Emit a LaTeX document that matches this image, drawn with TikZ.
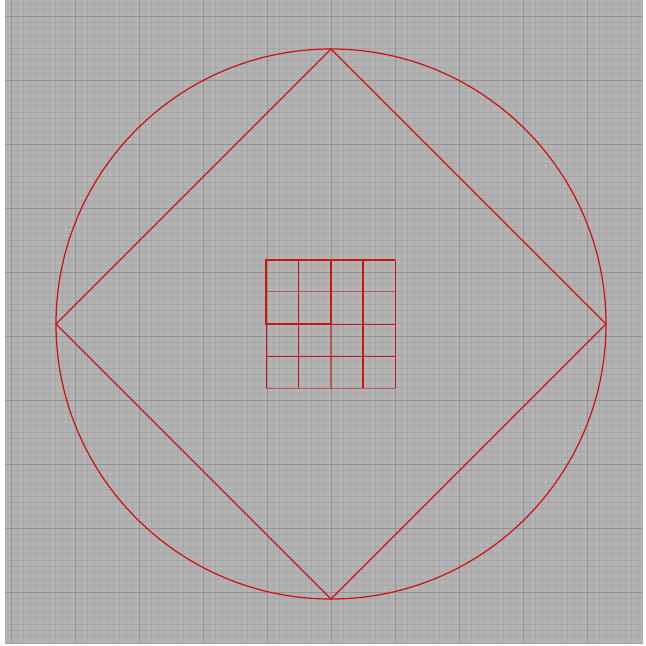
\documentclass[tikz,border=0pt]{standalone}
\usepackage{tikz}
\usetikzlibrary{calc}
\definecolor{CanvasGray}{HTML}{B3B3B3}
\definecolor{GridFine}{HTML}{A6A6A6}
\definecolor{GridMajor}{HTML}{929292}
\definecolor{SketchRed}{HTML}{CC1414}

\begin{document}
\begin{tikzpicture}[
    x=0.02cm, y=-0.02cm,
    fineline/.style={
      draw=GridFine,
      line width=0.45pt
    },
    majorline/.style={
      draw=GridMajor,
      line width=0.55pt
    },
    sketch/.style={
      draw=SketchRed,
      line width=0.7pt
    },
    faint/.style={
      draw=SketchRed,
      opacity=0.55,
      line width=0.8pt
    }
  ]

  \useasboundingbox (0,0) rectangle (646,646);

  % Canvas
  \fill[CanvasGray] (5,0) rectangle (643,643);

  % Grid (fine and major)
  \begin{scope}
    \clip (5,0) rectangle (643,643);
    \foreach \k in {-2,...,100} {
      \draw[fineline] ({11+6.4*\k},0) -- ({11+6.4*\k},643);
      \draw[fineline] (5,{16+6.4*\k}) -- (643,{16+6.4*\k});
    }
    \foreach \k in {0,...,9} {
      \draw[majorline] ({11+64*\k},0) -- ({11+64*\k},643);
      \draw[majorline] (5,{16+64*\k}) -- (643,{16+64*\k});
    }
  \end{scope}

  % Circle and inscribed square
  \coordinate (ctr)    at (331,324);
  \coordinate (top)    at (331,49);
  \coordinate (right)  at (606,324);
  \coordinate (bottom) at (331,599);
  \coordinate (left)   at (56,324);

  \draw[sketch] (ctr) circle[radius=275];
  \draw[sketch] (top) -- (right) -- (bottom) -- (left) -- cycle;

  % Small 4x4 grid
  \foreach \i in {0,1,3,4} {
    \draw[sketch] ({266.3+32.25*\i},260) -- ({266.3+32.25*\i},388.3);
  }
  \foreach \i in {0,2,3} {
    \draw[sketch] (266.3,{260+32.075*\i}) -- (395.3,{260+32.075*\i});
  }
  \draw[sketch] (331,260) -- (331,323.7);
  \draw[faint] (331,323.7) -- (331,388.3);
  \draw[faint] (266.3,291.7) -- (395.3,291.7);
  \draw[faint] (266.3,388.3) -- (395.3,388.3);
  \draw[sketch, line width=1.2pt] (266.3,260) rectangle (331,323.7);

\end{tikzpicture}
\end{document}
